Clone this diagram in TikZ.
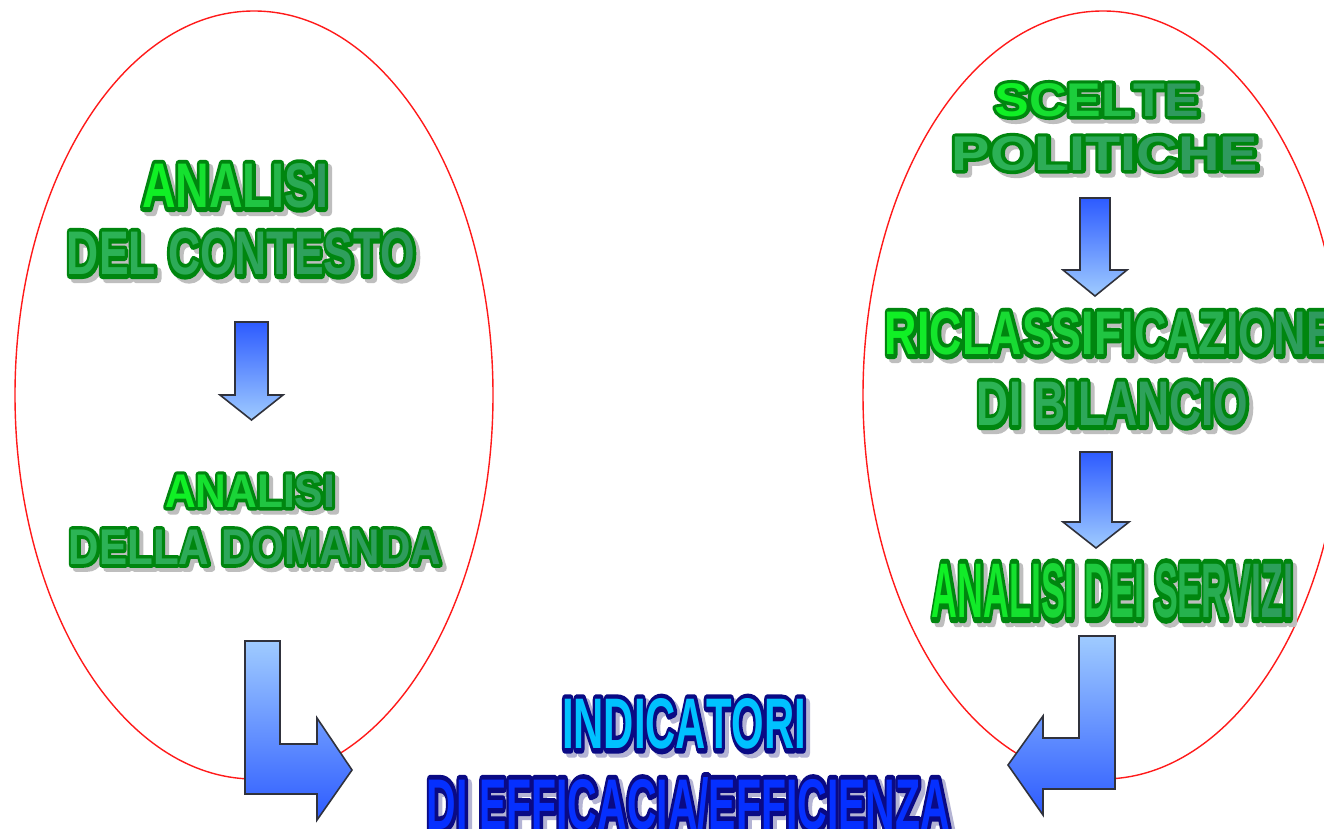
\documentclass[tikz,border=0pt]{standalone}
\usepackage{fontspec}
\setmainfont{Liberation Sans}
\newfontface\mainface{Liberation Sans Bold}
\newfontface\outface{Liberation Sans Bold}[FakeBold=14]
\usetikzlibrary{calc}
\definecolor{gBright}{HTML}{10F025}
\definecolor{gTeal}{HTML}{2F9A5E}
\definecolor{gMid}{HTML}{2CB455}
\definecolor{gOut}{HTML}{00860F}
\definecolor{gShad}{HTML}{BEBEBE}
\definecolor{bCyan}{HTML}{00C2FF}
\definecolor{bBlue}{HTML}{0530FF}
\definecolor{bOut}{HTML}{0A0A84}
\definecolor{bShad}{HTML}{B4B4D4}
\definecolor{arLight}{HTML}{9FCBFF}
\definecolor{arDark}{HTML}{2D5BFF}
\definecolor{arLine}{HTML}{30323C}
\definecolor{ellRed}{HTML}{FF1A1A}

\ExplSyntaxOn
\int_new:N \l_my_i_int
\int_new:N \l_my_n_int
\tl_new:N \l_my_pct_tl
\NewDocumentCommand\gradtext{mmm}{
  \int_set:Nn \l_my_n_int {\str_count:n {#3}}
  \int_zero:N \l_my_i_int
  \str_map_inline:nn {#3} {
    \int_compare:nNnTF {\l_my_n_int} > {1}
      {\tl_set:Nx \l_my_pct_tl {\int_eval:n {100 * \l_my_i_int / (\l_my_n_int - 1)}}}
      {\tl_set:Nn \l_my_pct_tl {0}}
    \tl_if_blank:nTF {##1}
      {\c_space_tl}
      {\textcolor{#2!\l_my_pct_tl!#1}{##1}}
    \int_incr:N \l_my_i_int
  }
}
\ExplSyntaxOff

% #1 name, #2 position, #3 width, #4 height, #5 text,
% #6 left fill, #7 right fill, #8 outline colour, #9 shadow colour
\newcommand\fancytext[9]{%
  \node[txt] (#1s) at ($(#2)+(4,4)$) {\resizebox{#3pt}{#4pt}{\outface\gradtext{#9}{#9}{#5}}};
  \node[txt] (#1o) at (#2) {\resizebox{#3pt}{#4pt}{\outface\gradtext{#8}{#8}{#5}}};
  \node[txt] (#1) at (#2) {\resizebox{#3pt}{#4pt}{\mainface\gradtext{#6}{#7}{#5}}};
}

\begin{document}
\begin{tikzpicture}[x=1pt,y=-1pt,
  txt/.style={inner sep=0pt,outer sep=0pt,anchor=center,line join=round},
  ring/.style={draw=ellRed,line width=1.4pt},
  blockarrow/.style={draw=arLine,line width=1.6pt,line join=miter}]
\fill[white] (0,0) rectangle (1324,829);
\useasboundingbox (0,0) rectangle (1324,829);

% ellipses
\draw[ring] (254,395) ellipse [x radius=239pt, y radius=384pt];
\draw[ring] (1103,395) ellipse [x radius=240pt, y radius=384pt];

% small down arrows
\shadedraw[blockarrow, top color=arDark, bottom color=arLight]
  (235,322) -- (268,322) -- (268,395) -- (283,395) -- (251.5,420) -- (220,395) -- (235,395) -- cycle;
\shadedraw[blockarrow, top color=arDark, bottom color=arLight]
  (1080,198) -- (1110,198) -- (1110,270) -- (1127,270) -- (1095,296) -- (1063,270) -- (1080,270) -- cycle;
\shadedraw[blockarrow, top color=arDark, bottom color=arLight]
  (1080,452) -- (1112,452) -- (1112,522) -- (1129,522) -- (1096,548) -- (1063,522) -- (1080,522) -- cycle;

% big L arrows
\shadedraw[blockarrow, top color=arLight, bottom color=arDark]
  (245,641) -- (280,641) -- (280,744) -- (317,744) -- (317,718) -- (352,770) -- (317,820) -- (317,794) -- (245,794) -- cycle;
\shadedraw[blockarrow, top color=arLight, bottom color=arDark]
  (1079,636) -- (1115,636) -- (1115,789) -- (1043,789) -- (1043,815) -- (1008,765) -- (1043,716) -- (1043,738) -- (1079,738) -- cycle;

% texts
\fancytext{t1}{235,186}{186}{44}{ANALISI}{gBright}{gTeal}{gOut}{gShad}
\fancytext{t2}{241,253.5}{348}{43}{DEL CONTESTO}{gMid}{gTeal}{gOut}{gShad}
\fancytext{t3}{250,491}{170}{33}{ANALISI}{gBright}{gTeal}{gOut}{gShad}
\fancytext{t4}{255,547}{372}{35}{DELLA DOMANDA}{gMid}{gTeal}{gOut}{gShad}
\fancytext{t5}{1097,100}{205}{33}{SCELTE}{gBright}{gTeal}{gOut}{gShad}
\fancytext{t6}{1105,153.5}{306}{34}{POLITICHE}{gMid}{gTeal}{gOut}{gShad}
\fancytext{t7}{1110.5,333.5}{451}{43}{RICLASSIFICAZIONE}{gBright}{gTeal}{gOut}{gShad}
\fancytext{t8}{1112.5,404}{271}{44}{DI BILANCIO}{gMid}{gTeal}{gOut}{gShad}
\fancytext{t9}{1112.5,591}{361}{54}{ANALISI DEI SERVIZI}{gBright}{gTeal}{gOut}{gShad}
\fancytext{t10}{684,724}{244}{50}{INDICATORI}{bCyan}{bCyan}{bOut}{bShad}
\fancytext{t11}{688.5,804}{523}{52}{DI EFFICACIA/EFFICIENZA}{bBlue}{bBlue}{bOut}{bShad}
\end{tikzpicture}
\end{document}
